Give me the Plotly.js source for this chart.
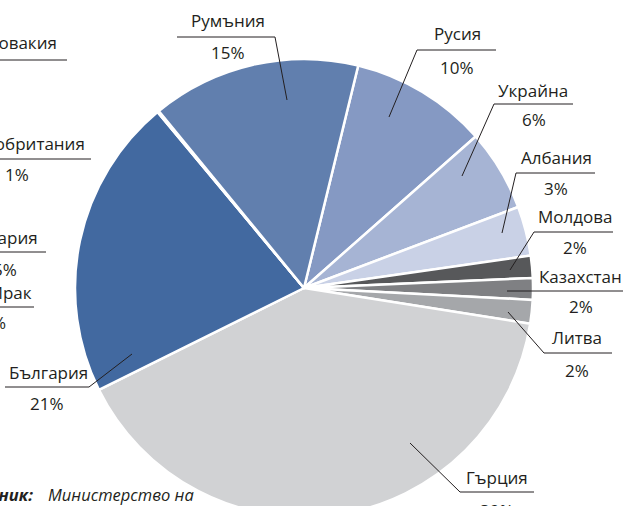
<!DOCTYPE html>
<html><head><meta charset="utf-8">
<script src="https://cdn.plot.ly/plotly-3.0.1.min.js"></script>
<style>
html,body{margin:0;padding:0;overflow:hidden;width:623px;height:506px;background:#fff}
#chart{position:absolute;left:-200px;top:-60px;width:1000px;height:700px}
</style>
</head><body><div id="chart"></div>
<script>
// ---- data (clockwise order, starting at the Romania/Russia boundary) ----
const countries = ["Русия","Украйна","Албания","Молдова","Казахстан","Литва","Гърция","България","Ирак","Унгария","Великобритания","Словакия","Румъния"];
const shares    = [9.7, 5.75, 3.5, 1.56, 1.53, 1.67, 40.2, 21.3, 0.03, 0.03, 0.03, 0.03, 14.75];
const pctLabels = ["10%","6%","3%","2%","2%","2%","39%","21%","%","0,5%","1%","","15%"];
const colors    = ["#8599c3","#a6b4d4","#c9d1e6","#57585a","#7f8083","#a5a7aa","#d1d2d4","#4269a0","#4269a0","#4269a0","#4269a0","#4269a0","#617fae"];

// ---- layout helpers (window pixel -> paper of the larger, cropped figure) ----
const OX = 200, OY = 60, W = 1000, H = 700;
const X = wx => (wx + OX) / W;
const Y = wy => 1 - (wy + OY) / H;
const CX = 304, CY = 288, R = 229;

// label placement: [name x, name y, pct x, pct y, underline x0, x1, y, leader end x, y, anchor]
const place = {
  "Румъния":       [228, 20, 228, 52, 177, 275, 37, 287, 100, "center"],
  "Русия":         [457, 33, 457, 67, 417, 496, 50, 389, 117, "center"],
  "Украйна":       [533, 90, 534, 120, 494, 573, 104, 462, 176, "center"],
  "Албания":       [556, 157, 556, 188, 516, 595, 173, 502, 233, "center"],
  "Молдова":       [575, 216, 575, 248, 534, 613, 232, 510, 270, "center"],
  "Казахстан":     [580, 276, 581, 307, 507, 640, 291, null, null, "center"],
  "Литва":         [577, 337, 577, 370, 544, 612, 353, 508, 312, "center"],
  "Гърция":        [497, 477, 497, 510, 460, 534, 492, 410, 443, "center"],
  "България":      [48, 372, 47, 403, 5, 89, 387, 132, 354, "center"],
  "Словакия":      [59, 43, 0, 0, -120, 67, 60, null, null, "right"],
  "Великобритания":[87, 144, 31, 175, -120, 91, 159, null, null, "right"],
  "Унгария":       [40, 237, 19, 269, -120, 46, 252, null, null, "right"],
  "Ирак":          [34, 292, 8, 322, -120, 34, 307, null, null, "right"]
};

const font = {family: "Open Sans, sans-serif", size: 17, color: "#231f20"};
const annotations = [], shapes = [];
countries.forEach((c, i) => {
  const p = place[c];
  annotations.push({xref:"paper", yref:"paper", x:X(p[0]), y:Y(p[1]), text:c, showarrow:false,
    xanchor:p[9], yanchor:"middle", font});
  if (pctLabels[i]) annotations.push({xref:"paper", yref:"paper", x:X(p[2]), y:Y(p[3]), text:pctLabels[i],
    showarrow:false, xanchor:p[9], yanchor:"middle", font});
  const ln = {color:"#231f20", width:1};
  shapes.push({type:"line", xref:"paper", yref:"paper", x0:X(p[4]), x1:X(p[5]), y0:Y(p[6]), y1:Y(p[6]), line:ln});
  if (p[7] !== null) {
    const sx = (p[0] < CX) ? p[5] : p[4];
    shapes.push({type:"line", xref:"paper", yref:"paper", x0:X(sx), y0:Y(p[6]), x1:X(p[7]), y1:Y(p[8]), line:ln});
  }
});
const srcFont = {family:"Open Sans, sans-serif", size:16.5, color:"#231f20"};
annotations.push({xref:"paper", yref:"paper", x:X(35), y:Y(494), text:"<b><i>Източник:</i></b>", showarrow:false,
  xanchor:"right", yanchor:"middle", font:srcFont});
annotations.push({xref:"paper", yref:"paper", x:X(46), y:Y(494), text:"<i>Министерство на</i>", showarrow:false,
  xanchor:"left", yanchor:"middle", font:srcFont});

const trace = {
  type: "pie", labels: countries, values: shares, sort: false, direction: "clockwise", rotation: 13.7,
  marker: {colors: colors, line: {color: "#ffffff", width: 2.5}},
  textinfo: "none", hoverinfo: "label+percent", showlegend: false,
  domain: {x: [X(CX - R), X(CX + R)], y: [Y(CY + R), Y(CY - R)]}
};

Plotly.newPlot("chart", [trace], {
  width: W, height: H, margin: {l:0, r:0, t:0, b:0},
  paper_bgcolor: "#ffffff", showlegend: false,
  annotations, shapes
}, {displayModeBar: false, staticPlot: true});
</script>
</body></html>
